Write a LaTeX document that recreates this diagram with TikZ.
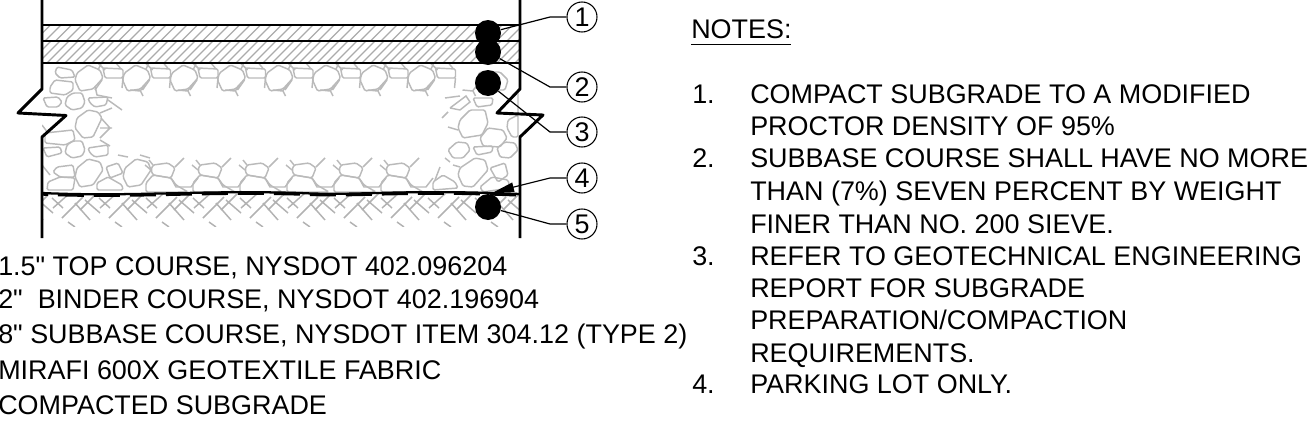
\documentclass[tikz,border=0pt]{standalone}
\usepackage{fontspec}
\newfontfamily\labelfont{Liberation Sans}
\usetikzlibrary{arrows.meta}
\newcommand{\poly}[1]{\draw[rock] #1 -- cycle;}
\tikzset{
  x=0.75pt,y=-0.75pt,
  txt/.style={anchor=base west,inner sep=0pt,font=\labelfont\fontsize{20.2pt}{22pt}\selectfont},
  wall/.style={line width=2.2pt,line join=round},
  thinline/.style={line width=0.8pt},
  hatch/.style={draw=black!33,line width=0.9pt},
  rock/.style={draw=black!27,line width=1.1pt,rounded corners=1.1pt},
  crack/.style={draw=black!27,line width=1.1pt},
  soil/.style={draw=black!30,line width=1.1pt},
  dot/.style={circle,fill=black,inner sep=0pt,minimum size=19.5pt},
  num/.style={circle,draw=black,line width=0.8pt,inner sep=0pt,minimum size=22.5pt,font=\labelfont\fontsize{20.2pt}{22pt}\selectfont},
  leader/.style={line width=0.9pt},
}
\begin{document}
\begin{tikzpicture}
\useasboundingbox (0,0) rectangle (1315,443);
\clip (0,0) rectangle (1315,443);
% asphalt hatch
\begin{scope}
\clip (42,25) rectangle (520,63);
\foreach \i in {0,...,50}{\draw[hatch] ({24+10.5*\i},41) -- ({40+10.5*\i},25);}
\foreach \i in {0,...,58}{\draw[hatch] ({20+9*\i},63) -- ({42+9*\i},41);}
\end{scope}
% gravel
\begin{scope}
\clip (42,63) rectangle (520,192);
% top row
\foreach \k in {0,...,7}{
 \begin{scope}[shift={({75+47.5*\k},0)}]
 \poly{(2,73) -- (13,65) -- (25,70) -- (28,78) -- (18,89) -- (5,91) -- (0,80)}
 \poly{(28,68) -- (48,69) -- (48,78) -- (30,78)}
 \draw[crack] (23,63) -- (30,70) (48,78) -- (47,88) (27,80) -- (20,90) (55,90) -- (65,91) -- (70,85) (65,90) -- (68,96) (26,64) -- (23,70) (41,63) -- (46,69);
 \end{scope}}
% bottom crack motif
\foreach \k in {-1,...,4}{
 \begin{scope}[shift={({200+47*\k},0)}]
 \poly{(0,165) -- (15,163) -- (22,168) -- (18,178) -- (0,175) -- (-2,170)}
 \poly{(-7,183) -- (0,175) -- (18,178) -- (23,185) -- (35,192) -- (-7,192)}
 \draw[crack] (22,167) -- (31,158) (0,165) -- (-4,160) (18,178) -- (23,187) -- (38,187) -- (45,178) (-2,170) -- (-8,165);
 \end{scope}}
% left column
\poly{(57,67) -- (72,70) -- (75,77) -- (60,78) -- (55,73)}
\poly{(50,87) -- (55,80) -- (73,82) -- (73,90) -- (65,95) -- (50,93)}
\poly{(67,97) -- (73,93) -- (82,93) -- (85,102) -- (82,108) -- (72,110) -- (65,105)}
\poly{(43,98) -- (58,97) -- (62,102) -- (58,107) -- (47,107)}
\poly{(88,98) -- (108,97) -- (106,105) -- (95,107) -- (90,103)}
\poly{(77,118) -- (88,110) -- (98,112) -- (102,118) -- (93,137) -- (83,138) -- (75,128)}
\poly{(45,133) -- (73,130) -- (75,140) -- (65,145) -- (45,143)}
\poly{(67,145) -- (73,141) -- (82,141) -- (85,150) -- (82,156) -- (72,158) -- (65,153)}
\poly{(43,148) -- (60,147) -- (62,153) -- (47,157)}
\poly{(88,148) -- (108,145) -- (108,155) -- (95,157) -- (90,153)}
\poly{(77,168) -- (88,159) -- (100,162) -- (103,170) -- (93,185) -- (80,187) -- (75,177)}
\poly{(125,168) -- (136,159) -- (148,162) -- (151,170) -- (141,185) -- (128,187) -- (123,177)}
\poly{(57,167) -- (73,165) -- (75,177) -- (60,177) -- (53,172)}
\poly{(48,182) -- (60,177) -- (75,178) -- (73,190) -- (47,190)}
\poly{(97,183) -- (108,177) -- (122,185) -- (123,190) -- (97,190)}
\poly{(106,167) -- (118,163) -- (123,173) -- (110,178)}
\draw[crack] (95,86) -- (97,95) -- (112,98) (108,100) -- (122,110) (112,108) -- (100,113) (101,118) -- (110,128) -- (100,138) (100,128) -- (112,128) (100,140) -- (110,146) (118,155) -- (128,157) (140,155) -- (150,158) (42,125) -- (48,133) (42,165) -- (50,175);
% right column
\poly{(460,120) -- (470,110) -- (485,110) -- (488,123) -- (482,135) -- (463,138) -- (458,128)}
\poly{(480,138) -- (488,128) -- (503,130) -- (507,138) -- (500,147) -- (483,146)}
\poly{(448,150) -- (457,142) -- (467,143) -- (470,150) -- (463,158) -- (453,158)}
\poly{(473,147) -- (493,146) -- (492,152) -- (477,155)}
\poly{(497,148) -- (505,142) -- (515,143) -- (518,150) -- (510,158) -- (500,157)}
\poly{(460,168) -- (475,158) -- (485,160) -- (488,170) -- (473,187) -- (463,186) -- (458,175)}
\poly{(490,168) -- (505,163) -- (508,175) -- (498,182)}
\poly{(480,187) -- (492,177) -- (508,180) -- (510,188) -- (483,192)}
\poly{(433,182) -- (443,175) -- (455,182) -- (458,188) -- (433,190)}
\poly{(473,98) -- (493,98) -- (492,105) -- (477,107)}
\poly{(508,120) -- (518,115) -- (518,137) -- (512,137) -- (507,128)}
\poly{(475,82) -- (480,72) -- (500,72) -- (508,80) -- (505,90) -- (480,90)}
\draw[crack] (450,108) -- (466,96) -- (470,102) -- (460,110) (450,108) -- (460,110) (442,118) -- (448,112) (448,127) -- (458,130) (445,98) -- (460,96) (445,158) -- (450,162) (453,165) -- (460,167) (440,167) -- (435,180) (518,90) -- (518,115);
\end{scope}
% subgrade
\begin{scope}
\clip (42,194) rectangle (520,226);
\foreach \k in {-1,...,10}{
 \begin{scope}[shift={({50+47*\k},0)}]
 \draw[soil] (3,208) -- (20,193) (12,218) -- (33,197) (30,210) -- (47,193) (2,198) -- (13,208) (25,203) -- (40,220) (35,200) -- (50,213) (18,222) -- (25,227);
 \end{scope}}
\end{scope}
% fabric
\draw[line width=1.7pt] (42,193) .. controls (130,197) and (200,190) .. (300,193) .. controls (360,196) and (400,189) .. (520,194);
\draw[line width=2.5pt,dash pattern=on 19.5pt off 7.5pt,dash phase=-12pt] (42,194) .. controls (130,198) and (200,191) .. (300,194) .. controls (360,197) and (400,190) .. (520,195);
% courses
\draw[line width=2.2pt] (42,25) -- (520,25);
\draw[thinline] (42,41) -- (520,41);
\draw[thinline] (42,63) -- (520,63);
% walls
\draw[wall] (42,0) -- (42,89) -- (18,113) -- (66,115.5) -- (42,137) -- (42,238);
\draw[wall] (520,0) -- (520,89) -- (497,113) -- (543,115) -- (520,137) -- (520,238);
% dots
\node[dot] (d1) at (488,33) {};
\node[dot] (d2) at (488,52) {};
\node[dot] (d3) at (488,83) {};
\node[dot] (d5) at (488,207) {};
\coordinate (t4) at (494,192);
% numbers
\node[num] (n1) at (582,17) {1};
\node[num] (n2) at (582,87) {2};
\node[num] (n3) at (582,132) {3};
\node[num] (n4) at (582,178) {4};
\node[num] (n5) at (582,224) {5};
\coordinate (e1) at (550,17);
\coordinate (e2) at (550,87);
\coordinate (e3) at (550,132);
\coordinate (e4) at (550,178);
\coordinate (e5) at (550,224);
\draw[leader] (d1) -- (e1) -- (n1);
\draw[leader] (d2) -- (e2) -- (n2);
\draw[leader] (d3) -- (e3) -- (n3);
\draw[leader,-{Triangle[length=15pt,width=7pt]}] (n4) -- (e4) -- (t4);
\draw[leader] (d5) -- (e5) -- (n5);
% legend
\node[txt] (a1) at (-2,275) {1.5" TOP COURSE, NYSDOT 402.096204};
\node[txt] (a2) at (-2,308) {2"\ \ BINDER COURSE, NYSDOT 402.196904};
\node[txt] (a3) at (-2,343) {8" SUBBASE COURSE, NYSDOT ITEM 304.12 (TYPE 2)};
\node[txt] (a4) at (-2,379) {MIRAFI 600X GEOTEXTILE FABRIC};
\node[txt] (a5) at (-2,414) {COMPACTED SUBGRADE};
% notes
\node[txt] (nt) at (691,38) {NOTES:};
\draw[line width=0.75pt] (691,44) -- (791,44);
\node[txt] (k1) at (692,103) {1.};
\node[txt] (l1) at (750,103) {COMPACT SUBGRADE TO A MODIFIED};
\node[txt] (l2) at (750,135) {PROCTOR DENSITY OF 95\%};
\node[txt] (k2) at (692,167) {2.};
\node[txt] (l3) at (750,167) {SUBBASE COURSE SHALL HAVE NO MORE};
\node[txt] (l4) at (750,200) {THAN (7\%) SEVEN PERCENT BY WEIGHT};
\node[txt] (l5) at (750,233) {FINER THAN NO. 200 SIEVE.};
\node[txt] (k3) at (692,265) {3.};
\node[txt] (l6) at (750,265) {REFER TO GEOTECHNICAL ENGINEERING};
\node[txt] (l7) at (750,297) {REPORT FOR SUBGRADE};
\node[txt] (l8) at (750,329) {PREPARATION/COMPACTION};
\node[txt] (l9) at (750,362) {REQUIREMENTS.};
\node[txt] (k4) at (692,393) {4.};
\node[txt] (l10) at (750,393) {PARKING LOT ONLY.};
\end{tikzpicture}
\end{document}
